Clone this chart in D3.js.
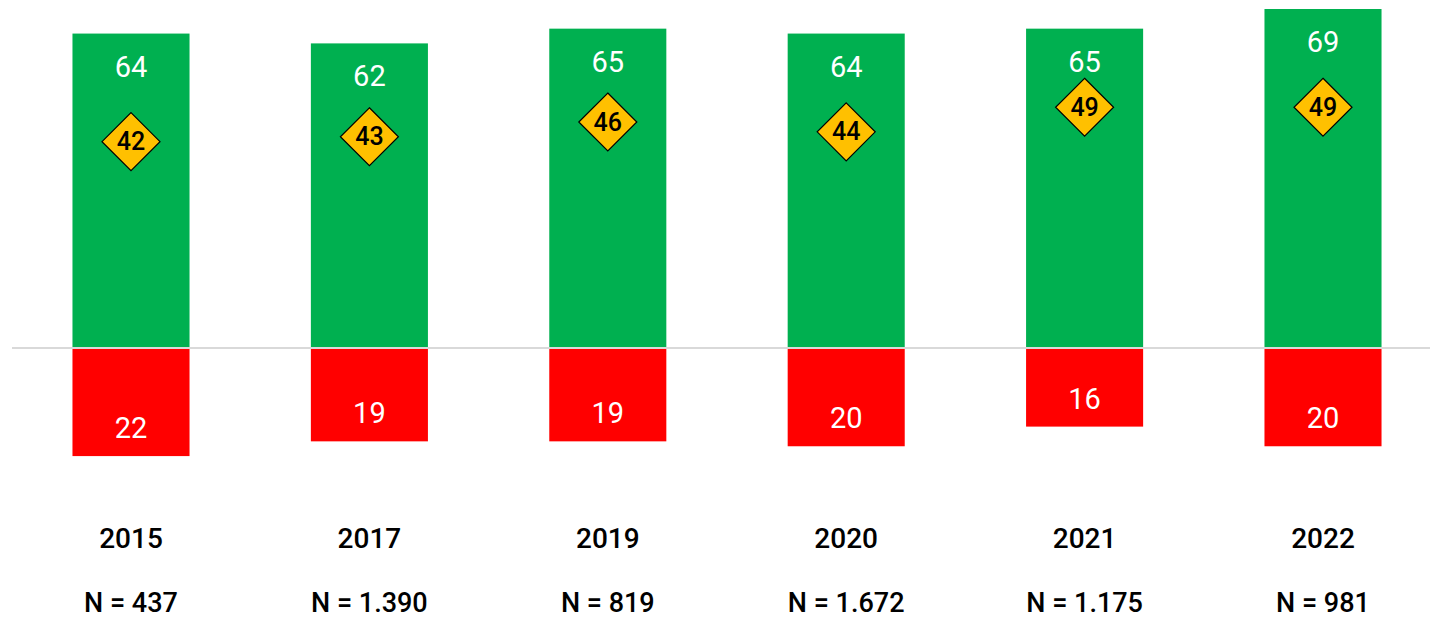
<!DOCTYPE html>
<html><head><meta charset="utf-8">
<script src="https://cdn.jsdelivr.net/npm/d3@7"></script>
<style>body{margin:0;background:#fff}svg{display:block}text{font-family:Roboto,"DejaVu Sans Condensed",sans-serif}</style>
</head><body>
<svg id="c" width="1430" height="620"></svg>
<script>
const categories = ["2015","2017","2019","2020","2021","2022"];
const nLabels = ["N = 437","N = 1.390","N = 819","N = 1.672","N = 1.175","N = 981"];
const positive = [64,62,65,64,65,69];
const negative = [22,19,19,20,16,20];
const balance = [42,43,46,44,49,49];

const svg = d3.select("#c");
const x = d3.scaleBand().domain(categories).range([11.8,1442.2]).paddingInner(0.509).paddingOuter(0.2545);
const y = d3.scaleLinear().domain([-40,70]).range([348+40*4.913, 348-70*4.913]);

// baseline
svg.append("line").attr("x1",12).attr("x2",1430).attr("y1",y(0)).attr("y2",y(0))
  .attr("stroke","#d9d9d9").attr("stroke-width",2);

const g = svg.append("g");
g.selectAll("rect.pos").data(categories).join("rect").attr("class","pos")
  .attr("x",d=>x(d)).attr("width",x.bandwidth())
  .attr("y",(d,i)=>y(positive[i])).attr("height",(d,i)=>y(0)-1-y(positive[i]))
  .attr("fill","#00B050");
g.selectAll("rect.neg").data(categories).join("rect").attr("class","neg")
  .attr("x",d=>x(d)).attr("width",x.bandwidth())
  .attr("y",y(0)+1).attr("height",(d,i)=>y(-negative[i])-y(0)-1)
  .attr("fill","#FF0000");

g.selectAll("text.pl").data(categories).join("text").attr("class","pl")
  .attr("x",d=>x(d)+x.bandwidth()/2).attr("y",(d,i)=>y(positive[i])+33)
  .attr("text-anchor","middle").attr("dominant-baseline","central")
  .attr("fill","#fff").attr("font-size",29).text((d,i)=>positive[i]);
g.selectAll("text.nl").data(categories).join("text").attr("class","nl")
  .attr("x",d=>x(d)+x.bandwidth()/2).attr("y",(d,i)=>y(-negative[i])-28)
  .attr("text-anchor","middle").attr("dominant-baseline","central")
  .attr("fill","#fff").attr("font-size",29).text((d,i)=>negative[i]);

const r = 29;
const dg = g.selectAll("g.dia").data(categories).join("g").attr("class","dia")
  .attr("transform",(d,i)=>`translate(${x(d)+x.bandwidth()/2},${y(balance[i])})`);
dg.append("path").attr("d",`M0,${-r}L${r},0L0,${r}L${-r},0Z`)
  .attr("fill","#FFC000").attr("stroke","#000").attr("stroke-width",1.2);
dg.append("text").attr("text-anchor","middle").attr("dominant-baseline","central")
  .attr("font-size",25).attr("font-weight",500).attr("fill","#000").text((d,i)=>balance[i]);

g.selectAll("text.cat").data(categories).join("text").attr("class","cat")
  .attr("x",d=>x(d)+x.bandwidth()/2).attr("y",538)
  .attr("text-anchor","middle").attr("dominant-baseline","central")
  .attr("font-size",28).attr("font-weight",500).attr("fill","#000").text(d=>d);
g.selectAll("text.n").data(categories).join("text").attr("class","n")
  .attr("x",d=>x(d)+x.bandwidth()/2).attr("y",612)
  .attr("text-anchor","middle")
  .attr("font-size",27).attr("font-weight",500).attr("fill","#000").text((d,i)=>nLabels[i]);
</script>
</body></html>
